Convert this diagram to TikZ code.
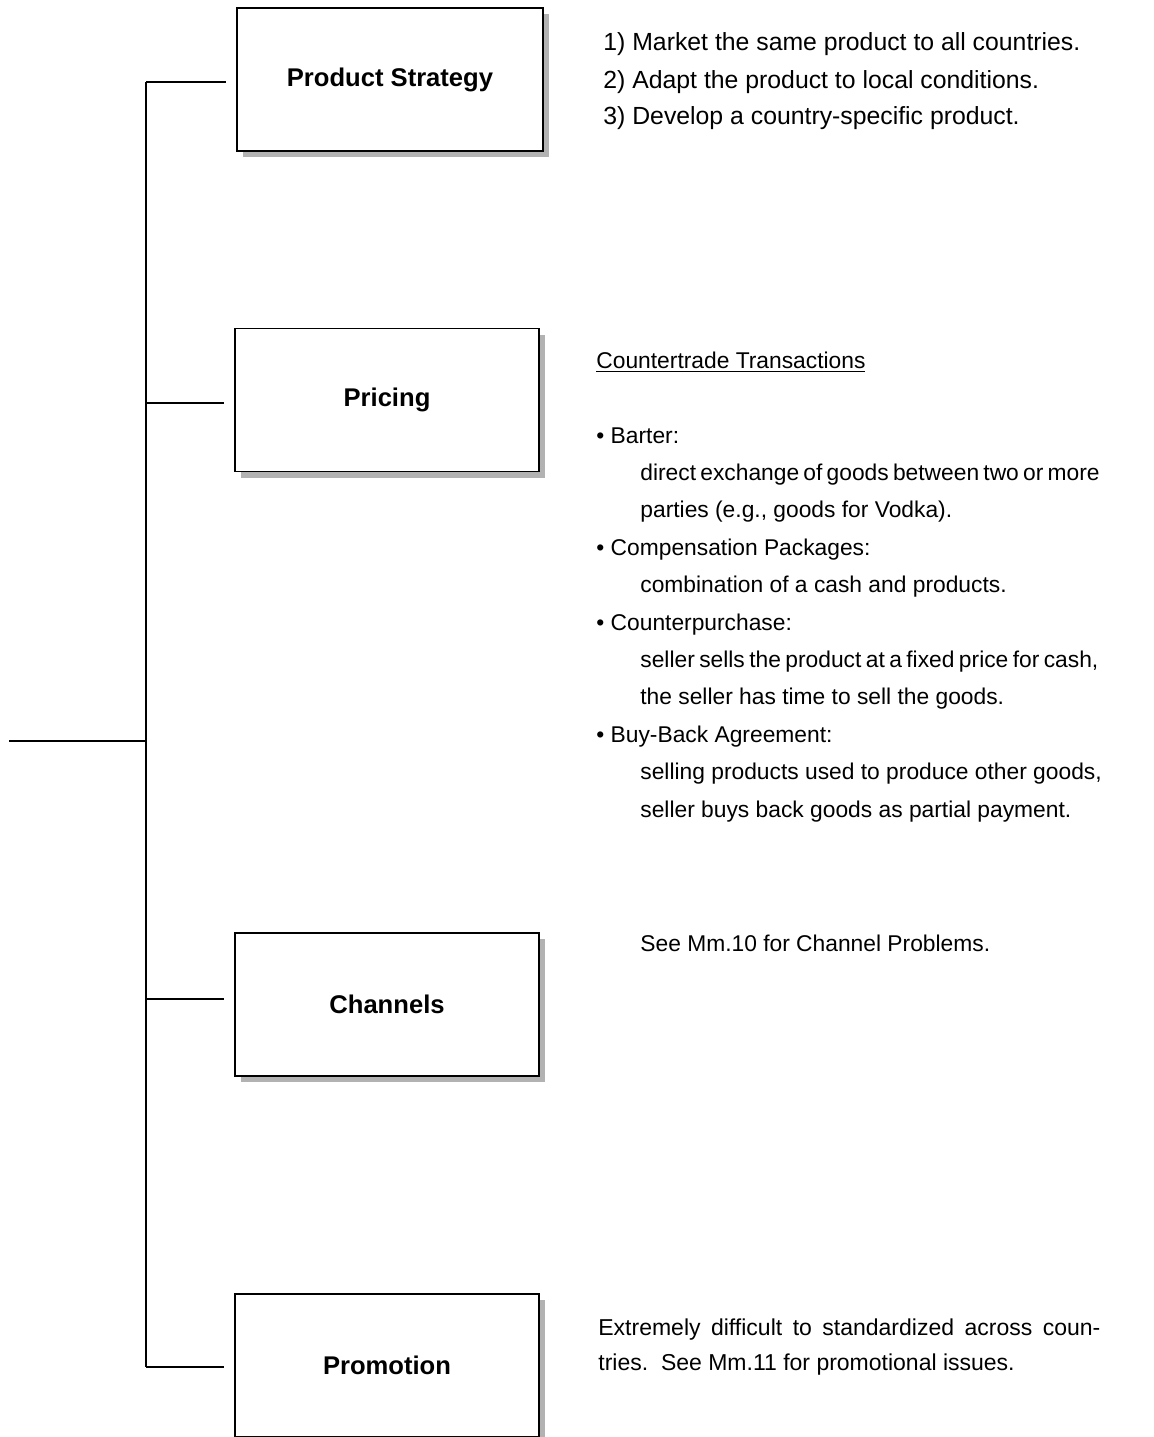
\documentclass[tikz,border=0pt]{standalone}
\usepackage{fontspec}
\setmainfont{Liberation Sans}
\usetikzlibrary{shadows}
\begin{document}
\begin{tikzpicture}[x=0.5pt,y=-0.5pt,
  box/.style={draw, line width=0.75pt, fill=white, inner sep=0pt,
    minimum width=152pt, minimum height=71.5pt,
    font=\fontsize{12.8}{15}\selectfont\bfseries,
    drop shadow={shadow xshift=3pt, shadow yshift=-3pt, fill=black!30, opacity=1}},
  conn/.style={draw, line width=0.7pt},
  txt/.style={anchor=base west, inner sep=0pt, font=\fontsize{11.4}{14}\selectfont},
  bigtxt/.style={txt, font=\fontsize{12.4}{14}\selectfont},
  promtxt/.style={txt, font=\fontsize{11.5}{14}\selectfont}]
\useasboundingbox (0,0) rectangle (1153,1437);

% category boxes
\node[box, minimum width=153pt] (ps) at (390,79.5) {Product Strategy};
\node[box] (pr) at (387,400) {Pricing};
\node[box] (ch) at (387,1004.5) {Channels};
\node[box] (pm) at (387,1365.5) {Promotion};

% tree junctions
\coordinate (j1) at (146,82);
\coordinate (j2) at (146,403);
\coordinate (j3) at (146,999);
\coordinate (j4) at (146,1367);
\coordinate (root) at (9,741);

\draw[conn] (j1) -- (j4);
\draw[conn] (root) -- (root -| j1);
\draw[conn, shorten >=5pt] (j1) -- (j1 -| ps.west);
\draw[conn, shorten >=5pt] (j2) -- (j2 -| pr.west);
\draw[conn, shorten >=5pt] (j3) -- (j3 -| ch.west);
\draw[conn, shorten >=5pt] (j4) -- (j4 -| pm.west);

% product strategy notes
\node[bigtxt] (p1) at (603,50) {1) Market the same product to all countries.};
\node[bigtxt] (p2) at (603,88) {2) Adapt the product to local conditions.};
\node[bigtxt] (p3) at (603,124) {3) Develop a country-specific product.};

% pricing notes
\node[txt] (c0) at (596,368) {\underline{Countertrade Transactions}};
\node[txt] (c1) at (596,443) {• Barter:};
\node[txt] (c2) at (640,480.4) {\makebox[229pt][s]{direct exchange of goods between two or more}};
\node[txt] (c3) at (640,517.8) {parties (e.g., goods for Vodka).};
\node[txt] (c4) at (596,555.2) {• Compensation Packages:};
\node[txt] (c5) at (640,592.6) {combination of a cash and products.};
\node[txt] (c6) at (596,630) {• Counterpurchase:};
\node[txt] (c7) at (640,667.4) {\makebox[229pt][s]{seller sells the product at a fixed price for cash,}};
\node[txt] (c8) at (640,704.8) {the seller has time to sell the goods.};
\node[txt] (c9) at (596,742.2) {• Buy-Back Agreement:};
\node[txt] (c10) at (640,779.6) {selling products used to produce other goods,};
\node[txt] (c11) at (640,817) {seller buys back goods as partial payment.};

% channels note
\node[txt] (n1) at (640,951) {See Mm.10 for Channel Problems.};

% promotion notes
\node[promtxt] (m1) at (598,1335) {\makebox[251pt][s]{Extremely difficult to standardized across coun-}};
\node[promtxt] (m2) at (598,1370) {tries.\ \ See Mm.11 for promotional issues.};
\end{tikzpicture}
\end{document}
